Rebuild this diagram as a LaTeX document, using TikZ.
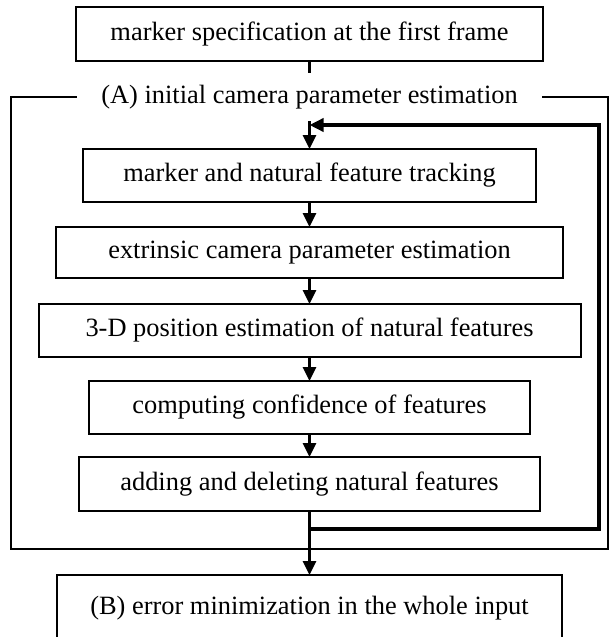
\documentclass[tikz,border=0pt]{standalone}
\usepackage{fontspec}
\setmainfont{Liberation Serif}
\usetikzlibrary{positioning,arrows.meta}

\begin{document}
\begin{tikzpicture}[
	x=0.5pt, y=-0.5pt,
	every node/.style={font=\fontsize{13.2}{15}\selectfont},
	box/.style={draw, line width=1pt, align=center, minimum height=26.5pt, inner sep=0pt, outer sep=0pt},
	phasebox/.style={draw, line width=0.8pt, minimum width=298.5pt, minimum height=226pt, inner sep=0pt, outer sep=0pt},
	arrow/.style={-{Triangle[length=7pt,width=6.5pt]}, line width=1.4pt},
	feedback/.style={-{Triangle[length=7pt,width=6.5pt]}, line width=1.7pt}
	]
	
	\useasboundingbox (0,0) rectangle (611,637);
	\clip (0,0) rectangle (611,637);
	
	\node[phasebox] (phaseA) at (309.5,323) {};
	
	\node[box, minimum width=233.5pt, minimum height=27pt] (marker) at (309.5,34) {marker specification at the first frame};
	\node[box, below=44pt of marker, minimum width=226.5pt] (track) {marker and natural feature tracking};
	\node[box, below=12.5pt of track, minimum width=253.5pt, minimum height=25.5pt] (extr) {extrinsic camera parameter estimation};
	\node[box, below=13pt of extr, minimum width=271pt] (pos3d) {3-D position estimation of natural features};
	\node[box, below=12pt of pos3d, minimum width=220.5pt] (conf) {computing confidence of features};
	\node[box, below=11.5pt of conf, minimum width=230.5pt, minimum height=27pt] (adddel) {adding and deleting natural features};
	
	% runs off the bottom edge, as in the source figure
	\node[box, draw=none, below=32pt of adddel, minimum width=252.5pt, minimum height=40pt, text depth=10pt] (errmin) {(B) error minimization in the whole input};
	\draw[line width=1pt] (errmin.south west) -- (errmin.north west) -- (errmin.north east) -- (errmin.south east);
	
	\node[fill=white, inner xsep=12pt, inner ysep=6pt] (labelA) at (phaseA.north) {(A) initial camera parameter estimation};
	
	\draw[line width=1.4pt] (marker) -- (labelA);
	\draw[arrow] (labelA) -- (track);
	\draw[arrow] (track) -- (extr);
	\draw[arrow] (extr) -- (pos3d);
	\draw[arrow] (pos3d) -- (conf);
	\draw[arrow] (conf) -- (adddel);
	\draw[arrow] (adddel) -- (errmin);
	
	% loop back to the tracking step
	\coordinate (merge) at ([yshift=12pt]track.north);
	\coordinate (loopcorner) at ([xshift=-4.5pt]phaseA.east);
	\draw[feedback] (adddel.south) -- ++(0,18) -| (loopcorner |- merge) -- (merge);
	
\end{tikzpicture}
\end{document}
